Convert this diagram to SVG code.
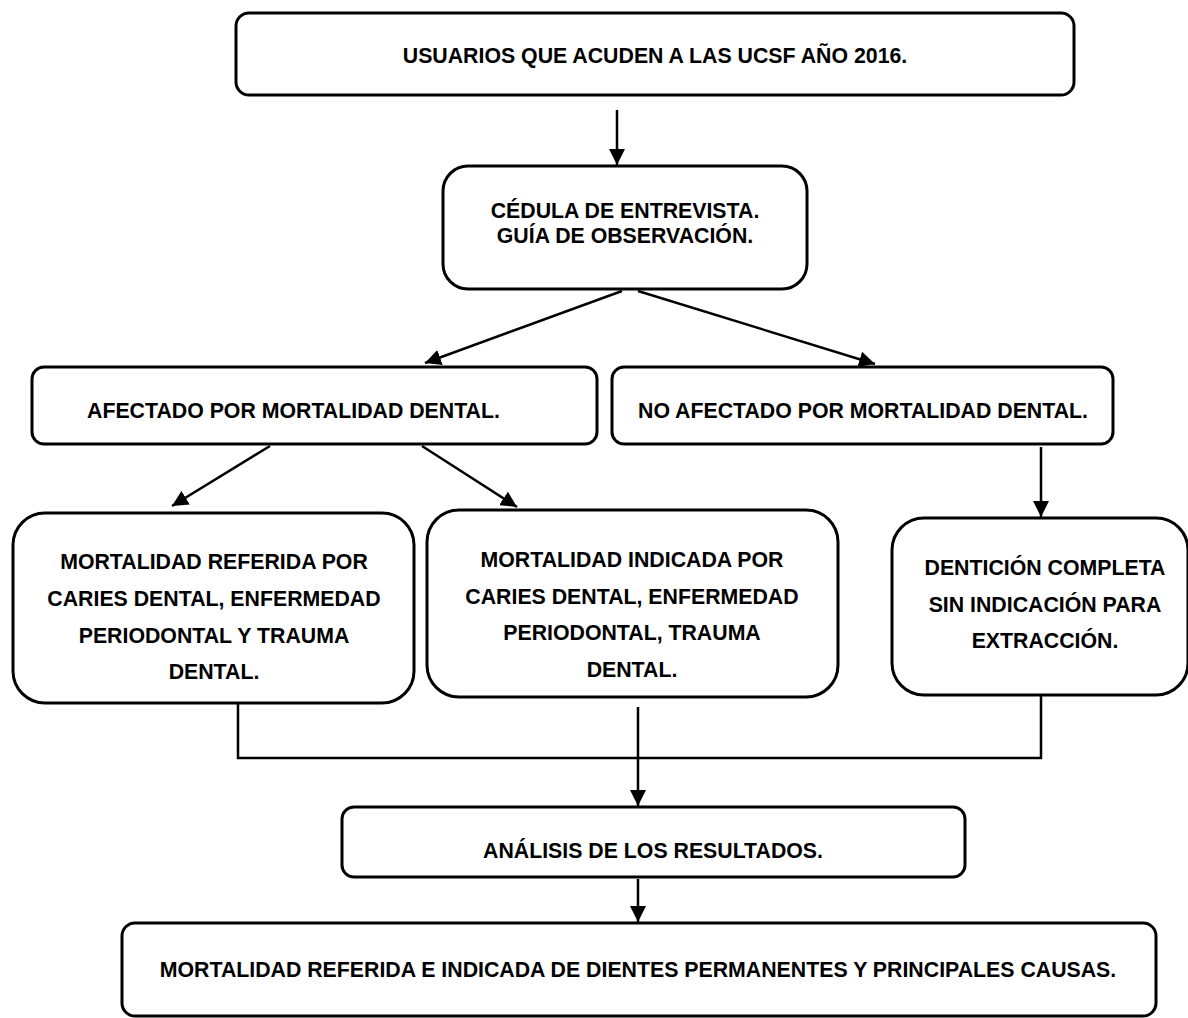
<svg xmlns="http://www.w3.org/2000/svg" width="1188" height="1018" viewBox="0 0 1188 1018">
<defs>
<style>
.box{fill:#fff;stroke:#000;stroke-width:3}
.t{font-family:"Liberation Sans",Arial,sans-serif;font-weight:bold;font-size:21.3px;fill:#000}
.c{text-anchor:middle}
.ln{fill:none;stroke:#000;stroke-width:2.5}
</style>
<marker id="ah" markerUnits="userSpaceOnUse" markerWidth="18" markerHeight="16" refX="16" refY="8" orient="auto">
<path d="M0,0 L16,8 L0,16 Z" fill="#000"/>
</marker>
</defs>
<rect width="1188" height="1018" fill="#fff"/>
<g id="connectors">
<line class="ln" x1="617" y1="110" x2="617" y2="165" marker-end="url(#ah)"/>
<line class="ln" x1="622" y1="291" x2="425" y2="363" marker-end="url(#ah)"/>
<line class="ln" x1="638" y1="291" x2="875" y2="364" marker-end="url(#ah)"/>
<line class="ln" x1="270" y1="446" x2="172" y2="506" marker-end="url(#ah)"/>
<line class="ln" x1="422" y1="446" x2="517" y2="507" marker-end="url(#ah)"/>
<line class="ln" x1="1041" y1="447" x2="1041" y2="517" marker-end="url(#ah)"/>
<polyline class="ln" points="238,704 238,758 1041,758 1041,696"/>
<line class="ln" x1="638" y1="707" x2="638" y2="806" marker-end="url(#ah)"/>
<line class="ln" x1="638" y1="879" x2="638" y2="922" marker-end="url(#ah)"/>
</g>
<g id="n1">
<rect class="box" x="236" y="13" width="838" height="82" rx="13"/>
<text class="t c" x="655" y="63">USUARIOS QUE ACUDEN A LAS UCSF AÑO 2016.</text>
</g>
<g id="n2">
<rect class="box" x="443" y="166" width="364" height="123" rx="25"/>
<text class="t c" x="625" y="218">CÉDULA DE ENTREVISTA.</text>
<text class="t c" x="625" y="243">GUÍA DE OBSERVACIÓN.</text>
</g>
<g id="n3">
<rect class="box" x="32" y="367" width="565" height="77" rx="12"/>
<text class="t" x="87" y="418">AFECTADO POR MORTALIDAD DENTAL.</text>
</g>
<g id="n4">
<rect class="box" x="612" y="367" width="501" height="77" rx="12"/>
<text class="t" x="638" y="418">NO AFECTADO POR MORTALIDAD DENTAL.</text>
</g>
<g id="n5">
<rect class="box" x="13" y="513" width="401" height="190" rx="32"/>
<text class="t c" x="214" y="569">MORTALIDAD REFERIDA POR</text>
<text class="t c" x="214" y="606">CARIES DENTAL, ENFERMEDAD</text>
<text class="t c" x="214" y="643">PERIODONTAL Y TRAUMA</text>
<text class="t c" x="214" y="679">DENTAL.</text>
</g>
<g id="n6">
<rect class="box" x="427" y="510" width="411" height="187" rx="32"/>
<text class="t c" x="632" y="567">MORTALIDAD INDICADA POR</text>
<text class="t c" x="632" y="604">CARIES DENTAL, ENFERMEDAD</text>
<text class="t c" x="632" y="640">PERIODONTAL, TRAUMA</text>
<text class="t c" x="632" y="677">DENTAL.</text>
</g>
<g id="n7">
<rect class="box" x="892" y="518" width="296" height="177" rx="32"/>
<text class="t c" x="1045" y="575">DENTICIÓN COMPLETA</text>
<text class="t c" x="1045" y="612">SIN INDICACIÓN PARA</text>
<text class="t c" x="1045" y="648">EXTRACCIÓN.</text>
</g>
<g id="n8">
<rect class="box" x="342" y="807" width="623" height="70" rx="12"/>
<text class="t c" x="653" y="858">ANÁLISIS DE LOS RESULTADOS.</text>
</g>
<g id="n9">
<rect class="box" x="122" y="923" width="1034" height="93" rx="13"/>
<text class="t c" x="638" y="977">MORTALIDAD REFERIDA E INDICADA DE DIENTES PERMANENTES Y PRINCIPALES CAUSAS.</text>
</g>
</svg>
